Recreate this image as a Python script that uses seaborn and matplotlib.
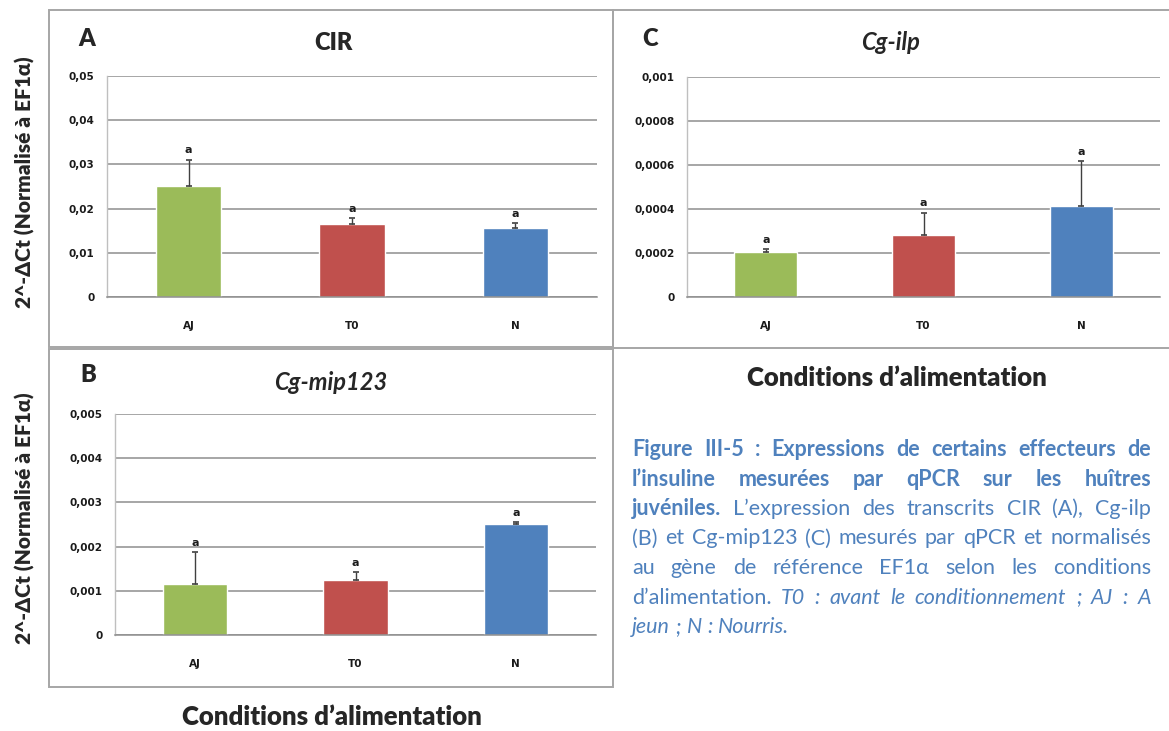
import matplotlib
matplotlib.use("Agg")
import matplotlib.pyplot as plt
from matplotlib.patches import Rectangle
import seaborn as sns
import pandas as pd

# ---------------- data ----------------
categories = ["AJ", "T0", "N"]
bar_colors = ["#9BBB59", "#C0504D", "#4F81BD"]

cir_mean = [0.0252, 0.0165, 0.0156]
cir_err = [0.0059, 0.0013, 0.0011]
cir_ticks = [0, 0.01, 0.02, 0.03, 0.04, 0.05]
cir_ticklabels = ["0", "0,01", "0,02", "0,03", "0,04", "0,05"]

ilp_mean = [0.000205, 0.000284, 0.000415]
ilp_err = [0.000013, 0.000100, 0.000201]
ilp_ticks = [0, 0.0002, 0.0004, 0.0006, 0.0008, 0.001]
ilp_ticklabels = ["0", "0,0002", "0,0004", "0,0006", "0,0008", "0,001"]

mip_mean = [0.00116, 0.00124, 0.00251]
mip_err = [0.00071, 0.00019, 0.00005]
mip_ticks = [0, 0.001, 0.002, 0.003, 0.004, 0.005]
mip_ticklabels = ["0", "0,001", "0,002", "0,003", "0,004", "0,005"]

sig_letters = ["a", "a", "a"]

ylabel_text = "2^-ΔCt (Normalisé à EF1α)"
xlabel_text = "Conditions d’alimentation"

caption_lines = [
    [("Figure III-5 : Expressions de certains effecteurs de", "b")],
    [("l’insuline mesurées par qPCR sur les huîtres", "b")],
    [("juvéniles.", "b"), ("L’expression des transcrits CIR (A), Cg-ilp", "r")],
    [("(B) et Cg-mip123 (C) mesurés par qPCR et normalisés", "r")],
    [("au gène de référence EF1α selon les conditions", "r")],
    [("d’alimentation.", "r"), ("T0 : avant le conditionnement ; AJ : A", "i")],
    [("jeun ; N : Nourris.", "i")],
]

# ---------------- style ----------------
sns.set_style("white")
plt.rcParams["font.family"] = ["Lato", "DejaVu Sans"]

W, H = 1169, 731
fig = plt.figure(figsize=(W / 100, H / 100), dpi=100)
fig.patch.set_facecolor("white")


def fx(x):
    return x / W


def fy(y):
    return 1 - y / H


def axes_px(x0, y0, x1, y1):
    return fig.add_axes([fx(x0), fy(y1), (x1 - x0) / W, (y1 - y0) / H])


def draw_panel(ax, mean, err, ticks, ticklabels):
    df = pd.DataFrame({"cond": categories, "val": mean})
    sns.barplot(data=df, x="cond", y="val", hue="cond", palette=bar_colors,
                width=0.4, legend=False, ax=ax, saturation=1, errorbar=None)
    xs = range(len(categories))
    ax.errorbar(list(xs), mean, yerr=[[0] * len(err), err], fmt="none",
                ecolor="#404040", elinewidth=1.0, capsize=2.5, capthick=1.2, zorder=4)
    for x, m, e, lab in zip(xs, mean, err, sig_letters):
        ax.annotate(lab, (x, m + e), xytext=(0, 3), textcoords="offset points",
                    ha="center", va="bottom", fontsize=8, fontweight="bold",
                    family=["DejaVu Sans"], color="#1a1a1a")
    ax.set_ylim(ticks[0], ticks[-1])
    ax.set_yticks(ticks)
    ax.set_yticklabels(ticklabels)
    ax.set_xlim(-0.5, 2.5)
    ax.set_xlabel("")
    ax.set_ylabel("")
    ax.yaxis.grid(True, color="#8E8E8E", linewidth=1.1)
    ax.set_axisbelow(True)
    for s in ["top", "right"]:
        ax.spines[s].set_visible(False)
    ax.spines["left"].set_color("#BFBFBF")
    ax.spines["left"].set_linewidth(1.0)
    ax.spines["bottom"].set_color("#8E8E8E")
    ax.spines["bottom"].set_linewidth(1.1)
    ax.tick_params(axis="both", length=0)
    ax.tick_params(axis="y", pad=9)
    ax.tick_params(axis="x", pad=17)
    for lbl in ax.get_yticklabels() + ax.get_xticklabels():
        lbl.set_fontfamily(["DejaVu Sans"])
        lbl.set_fontweight("bold")
        lbl.set_fontsize(7.5)
        lbl.set_color("#1a1a1a")
    ax.set_facecolor("white")


# ---------------- panel boxes ----------------
box_color = "#A6A6A6"
for (x0, y0, x1, y1) in [(49, 10, 613, 347), (613, 10, 1180, 348), (49, 349, 613, 687)]:
    fig.add_artist(Rectangle((fx(x0), fy(y1)), (x1 - x0) / W, (y1 - y0) / H,
                             transform=fig.transFigure, fill=False,
                             edgecolor=box_color, linewidth=1.4))

# ---------------- panels ----------------
axA = axes_px(107, 76, 597, 297)
draw_panel(axA, cir_mean, cir_err, cir_ticks, cir_ticklabels)
axC = axes_px(687, 77, 1160, 297)
draw_panel(axC, ilp_mean, ilp_err, ilp_ticks, ilp_ticklabels)
axB = axes_px(115, 414, 596, 635)
draw_panel(axB, mip_mean, mip_err, mip_ticks, mip_ticklabels)

# titles and panel letters
fig.text(fx(333), fy(43), "CIR", ha="center", va="center", fontsize=17, fontweight="heavy")
fig.text(fx(890), fy(43), "Cg-ilp", ha="center", va="center", fontsize=17,
         fontweight="bold", fontstyle="italic")
fig.text(fx(331), fy(383), "Cg-mip123", ha="center", va="center", fontsize=17,
         fontweight="bold", fontstyle="italic")
fig.text(fx(87), fy(39), "A", ha="center", va="center", fontsize=17, fontweight="heavy")
fig.text(fx(650), fy(39), "C", ha="center", va="center", fontsize=17, fontweight="heavy")
fig.text(fx(88), fy(375), "B", ha="center", va="center", fontsize=17, fontweight="heavy")

# y labels
for yc in (182, 518):
    fig.text(fx(25), fy(yc), ylabel_text, rotation=90, ha="center", va="center",
             fontsize=15, fontweight="heavy", family=["Lato", "DejaVu Sans"])

# x labels
fig.text(fx(897), fy(378), xlabel_text, ha="center", va="center",
         fontsize=18.5, fontweight="heavy")
fig.text(fx(332), fy(717), xlabel_text, ha="center", va="center",
         fontsize=18.5, fontweight="heavy")

# ---------------- justified caption ----------------
cap_color = "#4F81BD"
styles = {
    "b": dict(fontweight="bold", fontstyle="normal"),
    "r": dict(fontweight="normal", fontstyle="normal"),
    "i": dict(fontweight="normal", fontstyle="italic"),
}
renderer = fig.canvas.get_renderer()
x_left, x_right = 632, 1151
y_first, y_step = 456, 29.5


def measure(word, st, size):
    t = fig.text(0, 0, word, fontsize=size, family=["Lato", "DejaVu Sans"], **styles[st])
    w = t.get_window_extent(renderer).width
    t.remove()
    return w


def line_words(segs):
    words = []
    for txt, st in segs:
        for w in txt.split():
            words.append((w, st))
    return words


# choose the size so the tightest justified line fits with normal spaces
ref = 10.0
sp_ref = measure("a a", "r", ref) - measure("aa", "r", ref)
fits = []
for segs in caption_lines[:-1]:
    words = line_words(segs)
    nat = sum(measure(w, st, ref) for w, st in words) + sp_ref * 1.05 * (len(words) - 1)
    fits.append((x_right - x_left) / nat * ref)
cap_size = min(min(fits), 15.5)

space_w = measure("a a", "r", cap_size) - measure("aa", "r", cap_size)
for i, segs in enumerate(caption_lines):
    words = line_words(segs)
    widths = [measure(w, st, cap_size) for w, st in words]
    last = i == len(caption_lines) - 1
    if last or len(words) < 2:
        gap = space_w
    else:
        gap = (x_right - x_left - sum(widths)) / (len(words) - 1)
    x = x_left
    y = y_first + i * y_step
    for (w, st), wd in zip(words, widths):
        fig.text(fx(x), fy(y), w, ha="left", va="baseline", fontsize=cap_size,
                 color=cap_color, family=["Lato", "DejaVu Sans"], **styles[st])
        x += wd + gap

fig.savefig("out.png", dpi=100, facecolor="white")
